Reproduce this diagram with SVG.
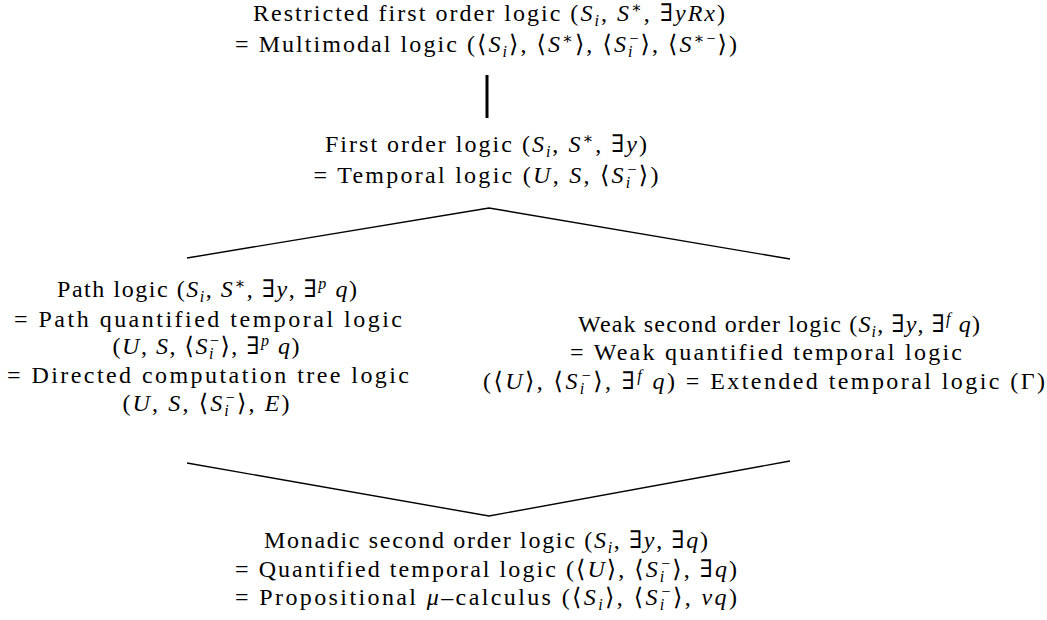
<svg xmlns="http://www.w3.org/2000/svg" width="1047" height="620" viewBox="0 0 1047 620">
<style>
text{font-family:"Liberation Serif","DejaVu Serif",serif;font-size:24px;fill:#000;text-anchor:middle}
.m{font-style:italic}
.sub{font-size:16px;font-style:italic}
.sup{font-size:16px}
.supi{font-size:16px;font-style:italic}
.c{fill:none;stroke:#000;stroke-width:1.4;stroke-linejoin:miter}
</style>
<rect width="1047" height="620" fill="#fff"/>
<g id="connectors">
<line x1="487" y1="75" x2="487" y2="118" stroke="#000" stroke-width="3"/>
<polyline class="c" points="187,258 489,208 790,259"/>
<polyline class="c" points="187,463 489,516 790,461"/>
</g>
<g id="node-rfol">
<text x="489" y="21" textLength="472" lengthAdjust="spacing">Restricted first order logic (<tspan class="m">S</tspan><tspan class="sub" dy="5">i</tspan><tspan dy="-5">, </tspan><tspan class="m">S</tspan><tspan class="sup" dy="-8">∗</tspan><tspan dy="8">, ∃</tspan><tspan class="m">yRx</tspan>)</text>
<text x="486" y="52" textLength="502" lengthAdjust="spacing">= Multimodal logic (⟨<tspan class="m">S</tspan><tspan class="sub" dy="5">i</tspan><tspan dy="-5">⟩, ⟨</tspan><tspan class="m">S</tspan><tspan class="sup" dy="-8">∗</tspan><tspan dy="8">⟩, ⟨</tspan><tspan class="m">S</tspan><tspan class="sub" dy="5">i</tspan><tspan class="sup" dx="-5" dy="-13">−</tspan><tspan dy="8">⟩, ⟨</tspan><tspan class="m">S</tspan><tspan class="sup" dy="-8">∗−</tspan><tspan dy="8">⟩)</tspan></text>
</g>
<g id="node-fol">
<text x="486" y="152" textLength="322" lengthAdjust="spacing">First order logic (<tspan class="m">S</tspan><tspan class="sub" dy="5">i</tspan><tspan dy="-5">, </tspan><tspan class="m">S</tspan><tspan class="sup" dy="-8">∗</tspan><tspan dy="8">, ∃</tspan><tspan class="m">y</tspan>)</text>
<text x="486" y="183" textLength="345" lengthAdjust="spacing">= Temporal logic (<tspan class="m">U</tspan>, <tspan class="m">S</tspan>, ⟨<tspan class="m">S</tspan><tspan class="sub" dy="5">i</tspan><tspan class="sup" dx="-5" dy="-13">−</tspan><tspan dy="8">⟩)</tspan></text>
</g>
<g id="node-path">
<text x="207" y="297" textLength="300" lengthAdjust="spacing">Path logic (<tspan class="m">S</tspan><tspan class="sub" dy="5">i</tspan><tspan dy="-5">, </tspan><tspan class="m">S</tspan><tspan class="sup" dy="-8">∗</tspan><tspan dy="8">, ∃</tspan><tspan class="m">y</tspan>, ∃<tspan class="supi" dy="-8">p</tspan><tspan class="m" dy="8"> q</tspan>)</text>
<text x="208" y="327" textLength="388" lengthAdjust="spacing">= Path quantified temporal logic</text>
<text x="206" y="354" textLength="187" lengthAdjust="spacing">(<tspan class="m">U</tspan>, <tspan class="m">S</tspan>, ⟨<tspan class="m">S</tspan><tspan class="sub" dy="5">i</tspan><tspan class="sup" dx="-5" dy="-13">−</tspan><tspan dy="8">⟩, ∃</tspan><tspan class="supi" dy="-8">p</tspan><tspan class="m" dy="8"> q</tspan>)</text>
<text x="208" y="383" textLength="402" lengthAdjust="spacing">= Directed computation tree logic</text>
<text x="206" y="411" textLength="167" lengthAdjust="spacing">(<tspan class="m">U</tspan>, <tspan class="m">S</tspan>, ⟨<tspan class="m">S</tspan><tspan class="sub" dy="5">i</tspan><tspan class="sup" dx="-5" dy="-13">−</tspan><tspan dy="8">⟩, </tspan><tspan class="m">E</tspan>)</text>
</g>
<g id="node-wsol">
<text x="779" y="332" textLength="402" lengthAdjust="spacing">Weak second order logic (<tspan class="m">S</tspan><tspan class="sub" dy="5">i</tspan><tspan dy="-5">, ∃</tspan><tspan class="m">y</tspan>, ∃<tspan class="supi" dy="-8">f</tspan><tspan class="m" dy="8"> q</tspan>)</text>
<text x="766" y="360" textLength="392" lengthAdjust="spacing">= Weak quantified temporal logic</text>
<text x="764" y="389" textLength="562" lengthAdjust="spacing">(⟨<tspan class="m">U</tspan>⟩, ⟨<tspan class="m">S</tspan><tspan class="sub" dy="5">i</tspan><tspan class="sup" dx="-5" dy="-13">−</tspan><tspan dy="8">⟩, ∃</tspan><tspan class="supi" dy="-8">f</tspan><tspan class="m" dy="8"> q</tspan>) = Extended temporal logic (Γ)</text>
</g>
<g id="node-msol">
<text x="486" y="548" textLength="444" lengthAdjust="spacing">Monadic second order logic (<tspan class="m">S</tspan><tspan class="sub" dy="5">i</tspan><tspan dy="-5">, ∃</tspan><tspan class="m">y</tspan>, ∃<tspan class="m">q</tspan>)</text>
<text x="486" y="577" textLength="502" lengthAdjust="spacing">= Quantified temporal logic (⟨<tspan class="m">U</tspan>⟩, ⟨<tspan class="m">S</tspan><tspan class="sub" dy="5">i</tspan><tspan class="sup" dx="-5" dy="-13">−</tspan><tspan dy="8">⟩, ∃</tspan><tspan class="m">q</tspan>)</text>
<text x="486" y="605" textLength="502" lengthAdjust="spacing">= Propositional <tspan class="m">μ</tspan>–calculus (⟨<tspan class="m">S</tspan><tspan class="sub" dy="5">i</tspan><tspan dy="-5">⟩, ⟨</tspan><tspan class="m">S</tspan><tspan class="sub" dy="5">i</tspan><tspan class="sup" dx="-5" dy="-13">−</tspan><tspan dy="8">⟩, </tspan><tspan class="m">νq</tspan>)</text>
</g>
</svg>
